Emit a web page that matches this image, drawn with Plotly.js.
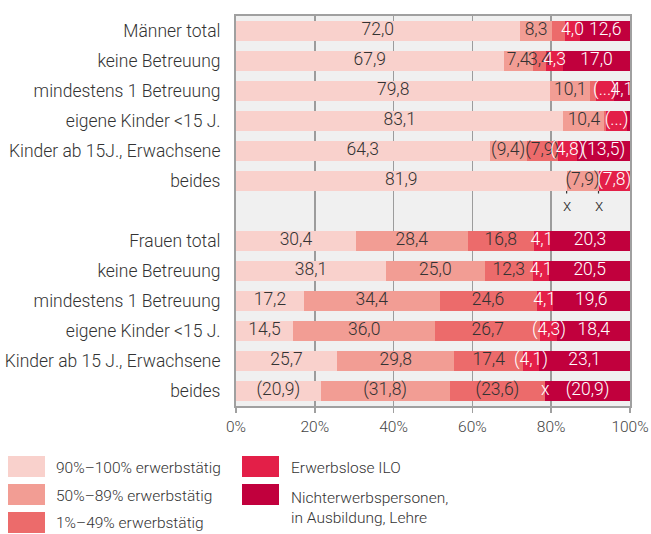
<!DOCTYPE html>
<html>
<head>
<meta charset="utf-8">
<script src="https://cdn.plot.ly/plotly-3.0.1.min.js"></script>
<style>html,body{margin:0;padding:0;background:#fff;}#chart{width:651px;height:534px;}</style>
</head>
<body>
<div id="chart"></div>
<script>
// ---- data ----
const rowLabels = [
  'Männer total', 'keine Betreuung', 'mindestens 1 Betreuung', 'eigene Kinder <15 J.',
  'Kinder ab 15J., Erwachsene', 'beides',
  'Frauen total', 'keine Betreuung', 'mindestens 1 Betreuung', 'eigene Kinder <15 J.',
  'Kinder ab 15 J., Erwachsene', 'beides'
];
const seriesNames = ['90%–100% erwerbstätig', '50%–89% erwerbstätig', '1%–49% erwerbstätig',
  'Erwerbslose ILO', 'Nichterwerbspersonen,<br>in Ausbildung, Lehre'];

const v90  = [72.0, 67.9, 79.8, 83.1, 64.3, 81.9, 30.4, 38.1, 17.2, 14.5, 25.7, 20.9];
const v50  = [8.3, 7.4, 10.1, 10.4, 9.4, 7.9, 28.4, 25.0, 34.4, 36.0, 29.8, 31.8];
const v1   = [3.1, 3.4, 1.5, 0.5, 7.9, 0, 16.8, 12.3, 24.6, 26.7, 17.4, 23.6];
const vILO = [4.0, 4.3, 4.5, 5.2, 4.8, 7.8, 4.1, 4.1, 4.1, 4.3, 4.1, 0];
const vNE  = [12.6, 17.0, 4.1, 0.8, 13.5, 0, 20.3, 20.5, 19.6, 18.4, 23.1, 20.9];

const t90  = ['72,0','67,9','79,8','83,1','64,3','81,9','30,4','38,1','17,2','14,5','25,7','(20,9)'];
const t50  = ['8,3','7,4','10,1','10,4','(9,4)','(7,9)','28,4','25,0','34,4','36,0','29,8','(31,8)'];
const t1   = ['','3,4','','','(7,9)','','16,8','12,3','24,6','26,7','17,4','(23,6)'];
const tILO = ['4,0','4,3','(...)','(...)','(4,8)','(7,8)','4,1','4,1','4,1','(4,3)','(4,1)','x'];
const tNE  = ['12,6','17,0','4,1','','(13,5)','','20,3','20,5','19,6','18,4','23,1','(20,9)'];

// suppressed values shown as "x" below the bar: row index, number of series before the mark
const xMarkRows = [5, 5];
const xMarkAfter = [1, 2];

const tickVals = [0, 20, 40, 60, 80, 100];
const tickText = ['0%', '20%', '40%', '60%', '80%', '100%'];

// ---- styling ----
const colors = ['#f9d1cc', '#f29d94', '#ec6b6b', '#e31f48', '#c1003d'];
const textColors = ['#333333', '#333333', '#333333', '#ffffff', '#ffffff'];
const FONT = 'Roboto, "Open Sans", sans-serif';

const values = [v90, v50, v1, vILO, vNE];
const texts = [t90, t50, t1, tILO, tNE];
const yPos = rowLabels.map((_, i) => i < 6 ? i : i + 1);

const traces = values.map((vals, s) => ({
  type: 'bar', orientation: 'h', x: vals, y: yPos, name: seriesNames[s],
  marker: {color: colors[s], line: {width: 0}}, width: 0.67,
  hoverinfo: 'skip', showlegend: false
}));

// label positions: midpoints of normalised segments
const lx = [], ly = [], lt = [], lc = [];
rowLabels.forEach((_, r) => {
  const tot = values.reduce((a, vals) => a + vals[r], 0);
  let cum = 0;
  values.forEach((vals, s) => {
    const w = vals[r] / tot * 100;
    if (texts[s][r] !== '') {
      lx.push(cum + w / 2); ly.push(yPos[r]); lt.push(texts[s][r]); lc.push(textColors[s]);
    }
    cum += w;
  });
});
traces.push({
  type: 'scatter', mode: 'text', x: lx, y: ly, text: lt,
  textfont: {family: FONT, size: 17.5, color: lc, weight: 300},
  textposition: 'middle center', cliponaxis: false, hoverinfo: 'skip', showlegend: false
});

// layout helpers
const L = 236, R = 630, T = 16, B = 406, W = 651, H = 534;
const px = x => (x - L) / (R - L);
const py = y => (B - y) / (B - T);

const annotations = [];
xMarkRows.forEach((r, k) => {
  const tot = values.reduce((a, vals) => a + vals[r], 0);
  let cum = 0;
  for (let s = 0; s < xMarkAfter[k]; s++) cum += values[s][r] / tot * 100;
  annotations.push({
    x: cum, y: yPos[r] + 0.335, xref: 'x', yref: 'y', text: 'x',
    showarrow: true, arrowhead: 0, arrowwidth: 1.2, arrowcolor: '#333', ax: 0, ay: 14,
    standoff: 0, startstandoff: 0,
    font: {family: FONT, size: 17, color: '#333', weight: 300}
  });
});

const shapes = [];
// custom legend
const legItems = [
  {s: 0, x: 8, y: 456, tx: 54, ty: 468},
  {s: 1, x: 8, y: 484, tx: 54, ty: 496},
  {s: 2, x: 8, y: 512, tx: 54, ty: 523},
  {s: 3, x: 242, y: 456, tx: 289, ty: 468},
  {s: 4, x: 242, y: 484, tx: 289, ty: 507.5}
];
legItems.forEach(it => {
  shapes.push({type: 'rect', xref: 'paper', yref: 'paper',
    x0: px(it.x), x1: px(it.x + 37), y0: py(it.y), y1: py(it.y + 21),
    fillcolor: colors[it.s], line: {width: 0}});
  annotations.push({xref: 'paper', yref: 'paper', x: px(it.tx), y: py(it.ty),
    xanchor: 'left', yanchor: 'middle', align: 'left', showarrow: false,
    text: seriesNames[it.s],
    font: {family: FONT, size: 15.5, color: '#333', weight: 300}});
});

const layout = {
  width: W, height: H,
  margin: {l: L, r: W - R, t: T, b: H - B, pad: 0},
  paper_bgcolor: '#ffffff', plot_bgcolor: '#f0f0f0',
  barmode: 'stack', barnorm: 'percent', bargap: 0.33,
  font: {family: FONT, size: 15, color: '#333', weight: 300},
  xaxis: {
    range: [0, 100], tickvals: tickVals, ticktext: tickText,
    showgrid: true, gridcolor: '#9c9c9c', gridwidth: 1.5,
    showline: true, mirror: true, linecolor: '#a0a0a0', linewidth: 2,
    ticks: 'outside', ticklen: 5, tickcolor: '#a0a0a0', tickwidth: 1.5,
    tickfont: {family: FONT, size: 15.5, color: '#444', weight: 300},
    zeroline: false, fixedrange: true
  },
  yaxis: {
    range: [12.5, -0.5], tickvals: yPos, ticktext: rowLabels,
    showgrid: false, zeroline: false,
    showline: true, mirror: true, linecolor: '#a0a0a0', linewidth: 2,
    ticks: '', ticklabelstandoff: 10,
    tickfont: {family: FONT, size: 17.5, color: '#333', weight: 300},
    fixedrange: true
  },
  showlegend: false,
  annotations: annotations, shapes: shapes
};

Plotly.newPlot('chart', traces, layout, {displayModeBar: false, staticPlot: true});
</script>
</body>
</html>
